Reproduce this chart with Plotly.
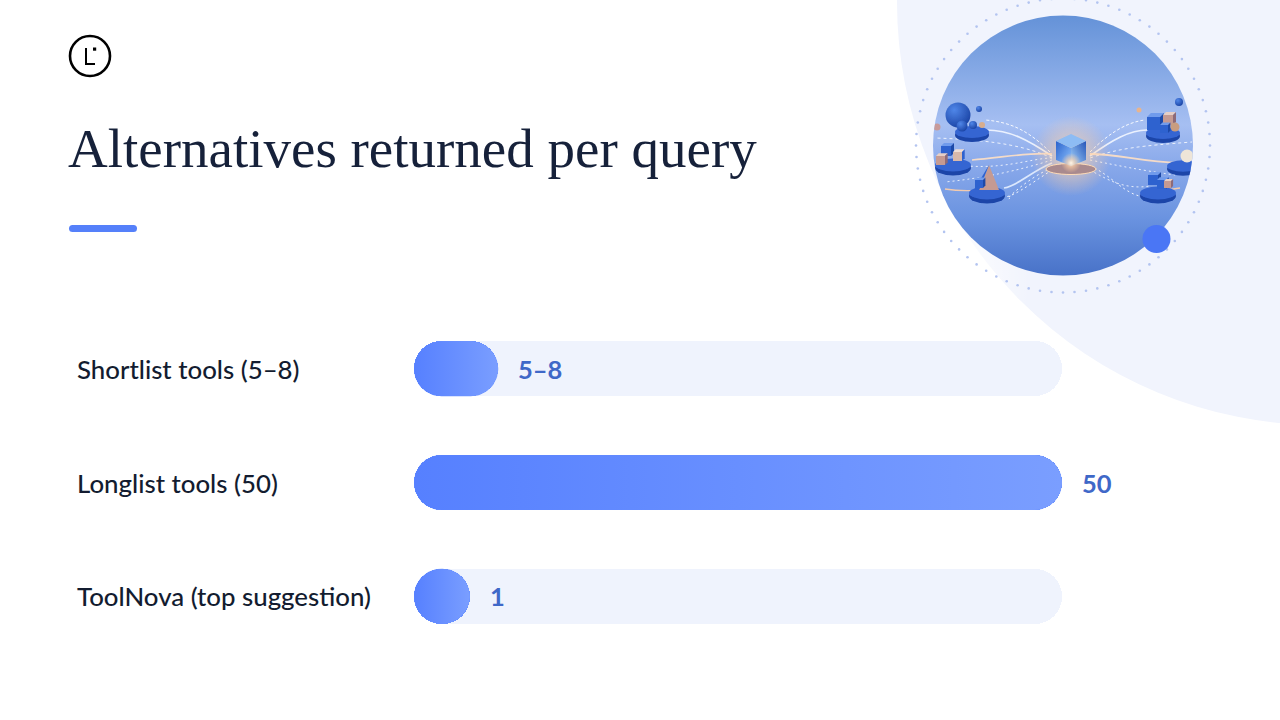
import base64
import numpy as np
import plotly.graph_objects as go

categories = ["Shortlist tools (5–8)", "Longlist tools (50)", "ToolNova (top suggestion)"]
bar_lengths = [6.5, 50, 4.3]
value_labels = ["5–8", "50", "1"]
track_length = 50
title_text = "Alternatives returned per query"

W, H = 1280, 720
PLOT_L, PLOT_R = 414, 1062
PLOT_T, PLOT_B = 312, 653
BAR_W = 55 / ((PLOT_B - PLOT_T) / 3)


def platform(cx, cy, rx, ry=None):
    ry = ry or rx * 0.36
    return (f'<ellipse cx="{cx}" cy="{cy + 3}" rx="{rx}" ry="{ry + 1}" fill="#1c45a8"/>'
            f'<ellipse cx="{cx}" cy="{cy}" rx="{rx}" ry="{ry}" fill="#3565d2"/>')


def cube(x, y, s, col="#2f62cf", top="#6f9bec", side="#1f49a8"):
    d = s * 0.3
    return (f'<rect x="{x}" y="{y}" width="{s}" height="{s}" fill="{col}"/>'
            f'<path d="M{x} {y}l{d} {-d}h{s}l{-d} {d}z" fill="{top}"/>'
            f'<path d="M{x + s} {y}l{d} {-d}v{s}l{-d} {d}z" fill="{side}"/>')


def ball(cx, cy, r, fill="url(#ballBlue)"):
    return f'<circle cx="{cx}" cy="{cy}" r="{r}" fill="{fill}"/>'


# flow lines between the centre hub and the outer platforms
flow = [
    ("M1050 152C1030 132 1012 122 985 120", "#ffffff", 1.0, "3 2"),
    ("M1052 156C1028 140 1010 130 986 130", "#f3f7ff", 1.7, ""),
    ("M1052 158C1030 148 1000 140 935 138", "#ffffff", 0.9, "3 3"),
    ("M1052 154C1030 152 1000 158 972 160", "#ffe0c4", 1.7, ""),
    ("M1052 158C1030 158 1000 172 950 164", "#ffffff", 0.9, "2 3"),
    ("M1052 163C1030 172 1018 186 1004 188", "#e6efff", 1.7, ""),
    ("M1052 168C1030 176 1000 204 1010 198", "#ffffff", 1, "2 3"),
    ("M1052 160C1020 170 985 178 945 182", "#ffffff", 0.9, "2 3"),
    ("M1052 170C1030 184 1010 200 1000 197", "#ffffff", 1, "2 3"),
    ("M1090 152C1110 132 1128 122 1145 120", "#ffffff", 1.0, "3 2"),
    ("M1090 156C1112 140 1130 130 1147 130", "#f3f7ff", 1.7, ""),
    ("M1090 158C1120 148 1140 146 1192 142", "#ffffff", 0.9, "3 3"),
    ("M1090 154C1120 154 1140 162 1180 163", "#ffe0c4", 1.8, ""),
    ("M1090 160C1120 166 1140 170 1175 175", "#ffffff", 0.9, "2 3"),
    ("M1090 166C1112 175 1125 196 1146 197", "#ffffff", 1, "2 3"),
    ("M1090 170C1108 180 1125 190 1150 186", "#ffffff", 0.9, "2 3"),
    ("M945 189C965 192 975 190 985 190", "#ffcfa8", 1.3, ""),
    ("M1180 188C1170 190 1165 190 1160 190", "#ffcfa8", 1.3, ""),
]
flow_svg = "".join(
    f'<path d="{d}" fill="none" stroke="{c}" stroke-width="{w}" stroke-opacity="0.9"'
    + (f' stroke-dasharray="{dash}"' if dash else "") + "/>"
    for d, c, w, dash in flow
)

angles = np.arange(80) * 2 * np.pi / 80
ring_dots = "".join(
    f'<circle cx="{1063 + 147 * np.cos(a):.1f}" cy="{145.5 + 147 * np.sin(a):.1f}" r="1.3" fill="#b3c4f0"/>'
    for a in angles
)

art = f'''<svg xmlns="http://www.w3.org/2000/svg" width="{W}" height="{H}" viewBox="0 0 {W} {H}">
<defs>
<linearGradient id="sky" x1="0" y1="0" x2="0" y2="1">
<stop offset="0" stop-color="#6492d8"/><stop offset="0.42" stop-color="#a6bff2"/>
<stop offset="0.58" stop-color="#88a8ea"/><stop offset="0.78" stop-color="#6a93e0"/>
<stop offset="1" stop-color="#4872c8"/></linearGradient>
<radialGradient id="ballBlue" cx="0.35" cy="0.3" r="0.8">
<stop offset="0" stop-color="#4f86e8"/><stop offset="1" stop-color="#173fa0"/></radialGradient>
<radialGradient id="glow"><stop offset="0" stop-color="#fff6e8"/><stop offset="0.4" stop-color="#ffd2a8" stop-opacity="0.65"/>
<stop offset="1" stop-color="#ffc99c" stop-opacity="0"/></radialGradient>
<radialGradient id="fade"><stop offset="0.35" stop-color="#fff"/><stop offset="1" stop-color="#fff" stop-opacity="0"/></radialGradient>
<linearGradient id="hubLeft" x1="0" y1="0" x2="1" y2="1"><stop offset="0" stop-color="#2a62cc"/><stop offset="1" stop-color="#8fc4ff"/></linearGradient>
<linearGradient id="hubRight" x1="1" y1="0" x2="0" y2="1"><stop offset="0" stop-color="#2454b8"/><stop offset="1" stop-color="#a9d8ff"/></linearGradient>
<clipPath id="disc"><circle cx="1063" cy="145.5" r="130"/></clipPath>
<filter id="soft"><feGaussianBlur stdDeviation="0.45"/></filter>
</defs>
<circle cx="1320" cy="2" r="423" fill="#f1f4fd"/>
<ellipse cx="905" cy="285" rx="125" ry="130" fill="url(#fade)"/>
{ring_dots}
<circle cx="1063" cy="145.5" r="130" fill="url(#sky)"/>
<g clip-path="url(#disc)" filter="url(#soft)">
{flow_svg}
{platform(972, 132, 17)}{ball(958, 115, 12.5)}{ball(979, 109, 3)}{ball(937, 127, 3.5, "#c79a9a")}
{ball(962, 126, 5.5)}{ball(973, 125, 4)}{ball(982, 125, 3, "#d7ad8d")}
{platform(953, 165, 18)}{cube(941, 146, 10)}{cube(936, 156, 9, "#c59a92", "#e6cfc6", "#8d6a78")}{cube(953, 152, 9, "#d9b9aa", "#f0dfd6", "#2f62cf")}
{platform(987, 193, 18)}<path d="M989 165L999 190H979z" fill="#c59a92"/><path d="M989 165L979 190H974z" fill="#2f62cf"/>{cube(975, 180, 8)}
{platform(1163, 133, 17)}{cube(1147, 117, 13)}{cube(1163, 115, 10, "#c59a92", "#e6cfc6", "#8d6a78")}{cube(1160, 125, 8)}{ball(1175, 127, 4.5, "#c99d80")}
{platform(1158, 193, 18)}{cube(1148, 175, 10)}{cube(1157, 180, 9)}{cube(1164, 181, 7, "#c59a92", "#e6cfc6", "#8d6a78")}
{platform(1183, 166, 16)}{ball(1187, 156, 6.5, "#eee5d8")}
{ball(1179, 102, 4)}{ball(1139, 110, 2.5, "#e8b48e")}
<circle cx="1071" cy="156" r="40" fill="url(#glow)" opacity="0.8"/>
<ellipse cx="1071" cy="169" rx="25" ry="5.5" fill="#a98a8e" stroke="#ffdcb8"/>
<path d="M1056 141L1071 148V166L1056 160z" fill="url(#hubLeft)"/>
<path d="M1086 141L1071 148V166L1086 160z" fill="url(#hubRight)"/>
<path d="M1056 141L1071 134L1086 141L1071 148z" fill="#8dbcf4"/>
<circle cx="1071" cy="163" r="10" fill="url(#glow)"/>
</g>
<circle cx="1156.5" cy="239" r="14" fill="#4a76f5"/>
<circle cx="90" cy="56" r="20" fill="none" stroke="#000" stroke-width="2.6"/>
<path d="M86 48V64H95" fill="none" stroke="#000" stroke-width="2"/>
<rect x="93" y="47.5" width="3.2" height="3.2" fill="#000"/>
<rect x="69" y="225" width="68" height="7" rx="3.5" fill="#5580fa"/>
</svg>'''
art_src = "data:image/svg+xml;base64," + base64.b64encode(art.encode()).decode()

plot_w = PLOT_R - PLOT_L
plot_h = PLOT_B - PLOT_T
rows = list(range(len(categories)))
bases = [0] * len(rows)  # setting base makes plotly round both ends of a bar

fig = go.Figure()

fig.add_trace(go.Bar(y=rows, x=[track_length] * len(rows), base=bases, orientation="h", width=BAR_W,
                     marker=dict(color="#eff3fd", cornerradius=27.5, line_width=0), hoverinfo="skip"))
fig.add_trace(go.Bar(y=rows, x=bar_lengths, base=bases, orientation="h", width=BAR_W,
                     marker=dict(color="#6890ff", cornerradius=27.5, line_width=0),
                     customdata=value_labels, hovertemplate="%{customdata}<extra></extra>"))

# bars can't take a gradient, so lay a gradient fill over each one
rx = 27.5 * track_length / plot_w
ry = BAR_W / 2
theta = np.linspace(-np.pi / 2, np.pi / 2, 40)
for row, length in zip(rows, bar_lengths):
    xs = np.concatenate([length - rx + rx * np.cos(theta), rx - rx * np.cos(theta[::-1])])
    ys = np.concatenate([row + ry * np.sin(theta), row + ry * np.sin(theta[::-1])])
    fig.add_trace(go.Scatter(x=np.append(xs, xs[0]), y=np.append(ys, ys[0]), mode="lines", line_width=0,
                             fill="toself", hoverinfo="skip",
                             fillgradient=dict(type="horizontal",
                                               colorscale=[[0, "#5680ff"], [1, "#7a9eff"]])))

for row, name, length, label in zip(rows, categories, bar_lengths, value_labels):
    fig.add_annotation(x=(75 - PLOT_L) / plot_w, xref="paper", y=row, yref="y", text=name,
                       showarrow=False, xanchor="left", yanchor="middle",
                       font=dict(family="Lato", size=25.8, color="#131c30", weight=500))
    fig.add_annotation(x=length, y=row, text=label, showarrow=False, xanchor="left", yanchor="middle",
                       xshift=18, font=dict(family="Lato", size=25.5, color="#3f68c8", weight=700))

fig.add_layout_image(source=art_src, xref="paper", yref="paper", layer="below",
                     x=-PLOT_L / plot_w, y=1 + PLOT_T / plot_h,
                     sizex=W / plot_w, sizey=H / plot_h, xanchor="left", yanchor="top", sizing="stretch")

fig.update_layout(
    width=W, height=H, showlegend=False, barmode="overlay", bargap=0,
    margin=dict(l=PLOT_L, r=W - PLOT_R, t=PLOT_T, b=H - PLOT_B, pad=0),
    paper_bgcolor="white", plot_bgcolor="rgba(0,0,0,0)",
    title=dict(text=title_text, xref="container", yref="container", x=68 / W, xanchor="left",
               y=1 - 148 / H, yanchor="middle",
               font=dict(family="Liberation Serif", size=55, color="#16213a")),
    xaxis=dict(range=[0, track_length], visible=False, fixedrange=True),
    yaxis=dict(range=[2.5, -0.5], visible=False, fixedrange=True),
)

fig.write_html("out.html", config=dict(displayModeBar=False),
               post_script="document.body.style.margin='0';")
